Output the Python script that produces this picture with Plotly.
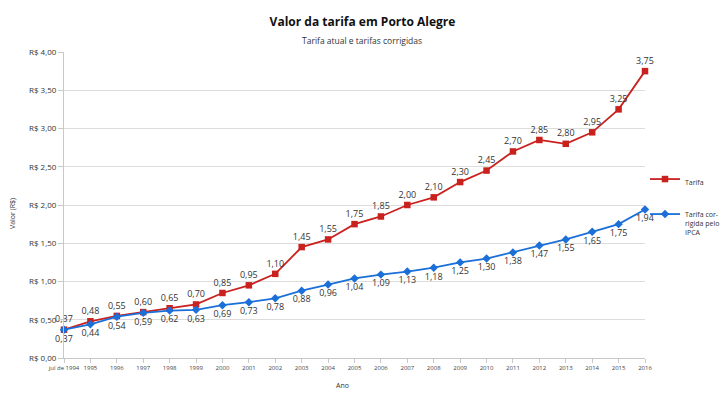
import plotly.graph_objects as go

years = ["jul de 1994", "1995", "1996", "1997", "1998", "1999", "2000", "2001", "2002",
         "2003", "2004", "2005", "2006", "2007", "2008", "2009", "2010", "2011", "2012",
         "2013", "2014", "2015", "2016"]
tarifa = [0.37, 0.48, 0.55, 0.60, 0.65, 0.70, 0.85, 0.95, 1.10, 1.45, 1.55, 1.75, 1.85,
          2.00, 2.10, 2.30, 2.45, 2.70, 2.85, 2.80, 2.95, 3.25, 3.75]
ipca = [0.37, 0.44, 0.54, 0.59, 0.62, 0.63, 0.69, 0.73, 0.78, 0.88, 0.96, 1.04, 1.09,
        1.13, 1.18, 1.25, 1.30, 1.38, 1.47, 1.55, 1.65, 1.75, 1.94]
y_ticks = [0, 0.5, 1.0, 1.5, 2.0, 2.5, 3.0, 3.5, 4.0]

x = list(range(len(years)))
fmt = lambda v: f"{v:.2f}".replace(".", ",")
FONT = "Open Sans"
RED = "#c9211e"
BLUE = "#1a6fd8"

L, R, T, B = 64, 80, 52, 54
W, H = 725, 412
PW, PH = W - L - R, H - T - B

fig = go.Figure()
fig.add_trace(go.Scatter(
    x=x, y=tarifa, mode="lines+markers+text", name="Tarifa", legendgroup="a",
    line=dict(color=RED, width=1.8),
    marker=dict(symbol="square", size=6.5, color=RED),
    text=[fmt(v) for v in tarifa], textposition="top center",
    textfont=dict(size=9, color="#333333", family=FONT),
    cliponaxis=False,
))
fig.add_trace(go.Scatter(
    x=x, y=ipca, mode="lines+markers+text", name="Tarifa cor-<br>rigida pelo<br>IPCA",
    legendgroup="b",
    line=dict(color=BLUE, width=1.8),
    marker=dict(symbol="diamond", size=6.5, color=BLUE),
    text=[fmt(v) for v in ipca], textposition="bottom center",
    textfont=dict(size=9, color="#333333", family=FONT),
    cliponaxis=False,
))

fig.update_layout(
    width=W, height=H,
    margin=dict(l=L, r=R, t=T, b=B, autoexpand=False),
    paper_bgcolor="white", plot_bgcolor="white",
    font=dict(family=FONT, color="#333333"),
    title=dict(text="<b>Valor da tarifa em Porto Alegre</b>", x=0.5, xanchor="center",
               y=1 - 22 / H, yanchor="middle", yref="container",
               font=dict(size=12, color="#111111", family=FONT)),
    annotations=[
        dict(text="Tarifa atual e tarifas corrigidas", xref="paper", yref="paper",
             x=(362 - L) / PW, y=1 + (T - 41) / PH, xanchor="center", yanchor="middle",
             showarrow=False, font=dict(size=8.5, color="#333333", family=FONT)),
        dict(text="Ano", xref="paper", yref="paper",
             x=(342 - L) / PW, y=-(385 - (T + PH)) / PH, xanchor="center", yanchor="middle",
             showarrow=False, font=dict(size=7, color="#333333", family=FONT)),
        dict(text="Valor (R$)", xref="paper", yref="paper", textangle=-90,
             x=-(L - 12) / PW, y=(T + PH - 214) / PH, xanchor="center", yanchor="middle",
             showarrow=False, font=dict(size=7, color="#333333", family=FONT)),
    ],
    legend=dict(x=1.0, xanchor="left", y=(T + PH - 168) / PH, yanchor="top",
                font=dict(size=7, color="#333333", family=FONT), valign="top",
                tracegroupgap=16, itemwidth=30, bgcolor="rgba(0,0,0,0)"),
    xaxis=dict(
        range=[0, 22], tickvals=x, ticktext=years, tickangle=0, automargin=False,
        tickfont=dict(size=6, color="#444444", family=FONT),
        showgrid=False, zeroline=False, showline=True, linecolor="#c8c8c8", linewidth=1,
        ticks="outside", ticklen=4, tickcolor="#c8c8c8",
    ),
    yaxis=dict(
        range=[0, 4], tickvals=y_ticks, ticktext=["R$ " + fmt(v) for v in y_ticks],
        automargin=False,
        tickfont=dict(size=8, color="#333333", family=FONT),
        showgrid=True, gridcolor="#dcdcdc", gridwidth=1, zeroline=False,
        showline=True, linecolor="#c8c8c8", linewidth=1,
        ticks="outside", ticklen=5, tickcolor="#c8c8c8",
    ),
)

fig.write_html("out.html", post_script="document.body.style.margin='0';",
               config={"displayModeBar": False})
